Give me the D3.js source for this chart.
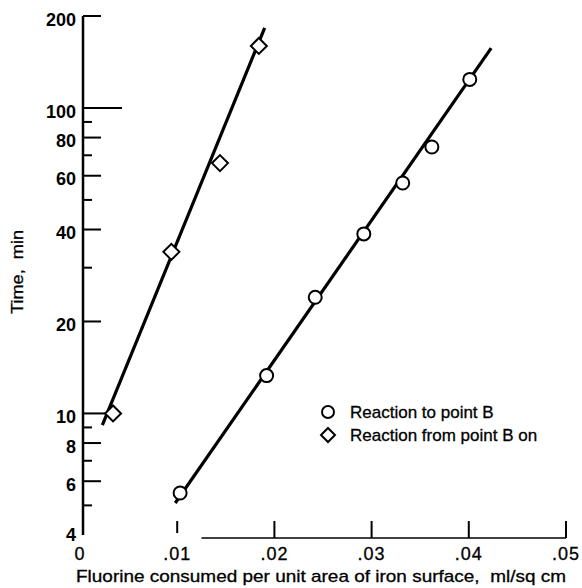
<!DOCTYPE html>
<html>
<head>
<meta charset="utf-8">
<script src="https://cdn.jsdelivr.net/npm/d3@7"></script>
<style>
  body { margin: 0; background: #fff; }
  svg { display: block; }
  text { fill: #000; stroke: #000; stroke-width: 0.3px; font-family: "Liberation Sans", Arial, sans-serif; }
  .ylab { font-family: "Liberation Sans Narrow", "Liberation Sans", sans-serif; font-weight: bold; font-size: 18px; stroke-width: 0; }
</style>
</head>
<body>
<svg id="chart" width="582" height="588"></svg>
<script>
// Reaction to point B (circles)
const circleX = [0.0103, 0.0192, 0.0242, 0.0292, 0.0332, 0.0362, 0.0401];
const circleY = [5.49, 13.3, 24.0, 38.7, 56.8, 74.5, 124];
// Reaction from point B on (diamonds)
const diamondX = [0.0034, 0.0094, 0.0144, 0.0184];
const diamondY = [10.0, 33.8, 66, 159.6];
// faired lines
const fitCircleX = [0.0098, 0.0423];
const fitCircleY = [5.09, 157];
const fitDiamondX = [0.0023, 0.0190];
const fitDiamondY = [9.16, 183];

const xTicks = [0, 0.01, 0.02, 0.03, 0.04, 0.05];
const xTickLabels = ["0", ".01", ".02", ".03", ".04", ".05"];
const yMajor = [200, 100, 80, 60, 40, 20, 10, 8, 6, 4];
const yMinor = [90, 70, 50, 30, 9, 7, 5];
const legendLabels = ["Reaction to point B", "Reaction from point B on"];

const svg = d3.select("#chart");
const x = d3.scaleLinear().domain([0, 0.05]).range([80, 566]);
const y = d3.scaleLog().domain([4, 200]).range([535, 16]);
const ax = x(0) + 3;

// y axis
svg.append("line").attr("x1", ax).attr("x2", ax).attr("y1", y(200)).attr("y2", y(4))
  .attr("stroke", "#000").attr("stroke-width", 2.5);
const tickLen = v => v === 100 ? 39 : v === 10 ? 24 : v === 4 ? 0 : 18;
svg.selectAll(".ymaj").data(yMajor).join("line")
  .attr("x1", ax).attr("x2", d => ax + tickLen(d))
  .attr("y1", d => y(d)).attr("y2", d => y(d))
  .attr("stroke", "#000").attr("stroke-width", 2);
svg.selectAll(".ymin").data(yMinor).join("line")
  .attr("x1", ax).attr("x2", ax + 9)
  .attr("y1", d => y(d)).attr("y2", d => y(d))
  .attr("stroke", "#000").attr("stroke-width", 2);
svg.selectAll(".ylab").data(yMajor).join("text").attr("class", "ylab")
  .attr("x", 76).attr("y", d => y(d) + (d === 4 ? 1 : 5))
  .attr("text-anchor", "end").attr("dominant-baseline", "middle")
  .text(d => d);

// x axis (baseline starts past the first tick as in the original)
svg.append("line").attr("x1", x(0.0125)).attr("x2", x(0.05))
  .attr("y1", 538).attr("y2", 538).attr("stroke", "#000").attr("stroke-width", 1.5);
svg.selectAll(".xt").data(xTicks.slice(1)).join("line")
  .attr("x1", d => x(d)).attr("x2", d => x(d))
  .attr("y1", 521).attr("y2", d => d === 0.01 ? 533 : 538)
  .attr("stroke", "#000").attr("stroke-width", 2);
svg.selectAll(".xl").data(xTicks).join("text")
  .attr("x", d => x(d)).attr("y", 560)
  .attr("text-anchor", "middle").style("font-size", "18px").style("letter-spacing", "1px")
  .text((d, i) => xTickLabels[i]);

svg.append("text").attr("x", 76).attr("y", 582)
  .attr("textLength", 490).attr("lengthAdjust", "spacingAndGlyphs")
  .style("font-size", "17px")
  .text("Fluorine consumed per unit area of iron surface,\u00a0 ml/sq cm");
svg.append("text").attr("transform", "translate(23,272) rotate(-90)")
  .attr("text-anchor", "middle").style("font-size", "16px")
  .attr("textLength", 84).attr("lengthAdjust", "spacingAndGlyphs")
  .text("Time,\u00a0 min");

// fit lines
const line = d3.line().x(d => x(d[0])).y(d => y(d[1]));
[[fitCircleX, fitCircleY], [fitDiamondX, fitDiamondY]].forEach(([xs, ys]) => {
  svg.append("path").datum(d3.zip(xs, ys)).attr("d", line)
    .attr("fill", "none").attr("stroke", "#000").attr("stroke-width", 3.2);
});

// markers
const diamond = (cx, cy, r) => `M${cx},${cy - r}L${cx + r},${cy}L${cx},${cy + r}L${cx - r},${cy}Z`;
svg.selectAll(".cm").data(d3.zip(circleX, circleY)).join("circle")
  .attr("cx", d => x(d[0])).attr("cy", d => y(d[1])).attr("r", 6.5)
  .attr("fill", "#fff").attr("stroke", "#000").attr("stroke-width", 2);
svg.selectAll(".dm").data(d3.zip(diamondX, diamondY)).join("path")
  .attr("d", d => diamond(x(d[0]), y(d[1]), 8))
  .attr("fill", "#fff").attr("stroke", "#000").attr("stroke-width", 2);

// legend
const lg = svg.append("g").attr("transform", "translate(328,412)");
lg.append("circle").attr("cx", 0).attr("cy", 0).attr("r", 6)
  .attr("fill", "#fff").attr("stroke", "#000").attr("stroke-width", 2);
lg.append("path").attr("d", diamond(0, 23, 7))
  .attr("fill", "#fff").attr("stroke", "#000").attr("stroke-width", 2);
lg.selectAll("text").data(legendLabels).join("text")
  .attr("x", 22).attr("y", (d, i) => i * 23 + 6)
  .style("font-size", "17px")
  .text(d => d);
</script>
</body>
</html>
